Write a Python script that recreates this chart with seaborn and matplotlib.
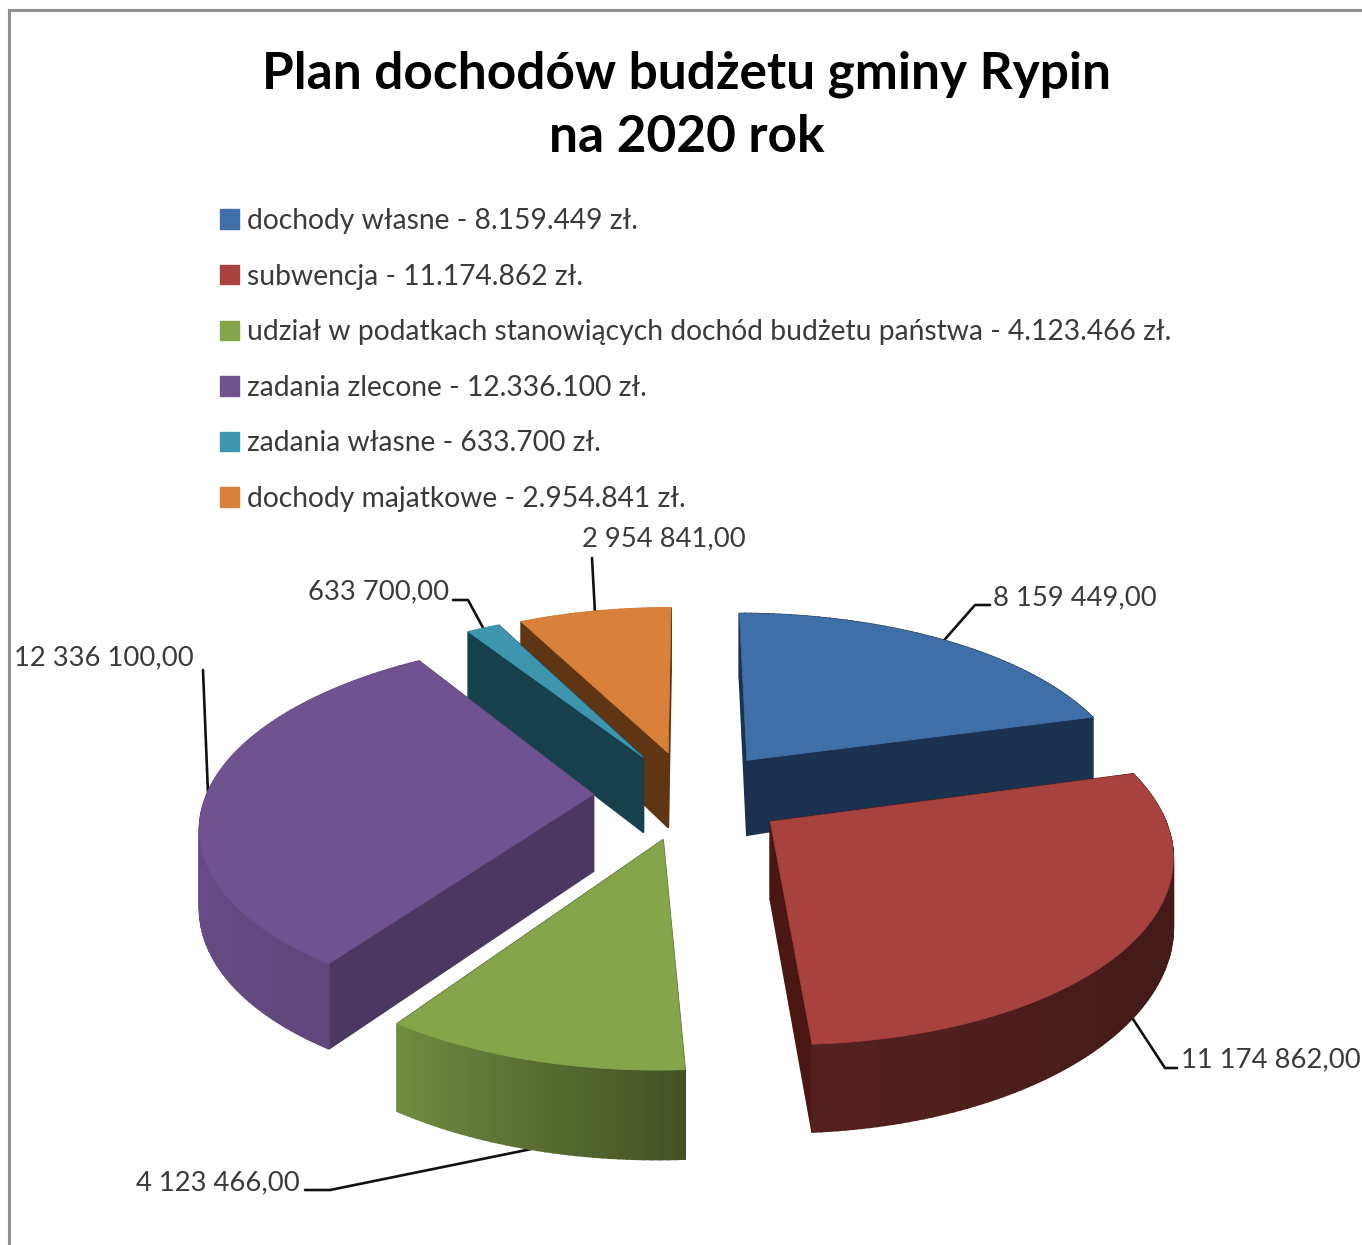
import numpy as np
import seaborn as sns
import matplotlib
matplotlib.use("Agg")
import matplotlib.pyplot as plt
from matplotlib.patches import Patch

title = "Plan dochodów budżetu gminy Rypin\nna 2020 rok"
names = ["dochody własne", "subwencja",
         "udział w podatkach stanowiących dochód budżetu państwa",
         "zadania zlecone", "zadania własne", "dochody majatkowe"]
values = [8159449, 11174862, 4123466, 12336100, 633700, 2954841]
top_colors = ["#3f6fa8", "#a8423f", "#86a44a", "#6f5391", "#3d96ae", "#d9813a"]
side_colors = ["#1b3150", "#4a1713", "#46592a", "#4b3862", "#17404d", "#603513"]

# where the labels sit and how the leader lines bend
label_pos = [(993, 598), (1181, 1060), (300, 1183), (194, 658), (449, 592), (664, 539)]
label_ha = ["left", "left", "right", "right", "right", "center"]
elbows = [[(975, 605), (990, 605)], [(1165, 1068), (1177, 1068)],
          [(330, 1190), (305, 1190)], [(203, 670)],
          [(468, 600), (453, 600)], [(592, 558)]]
use_bottom = [False, True, True, False, False, False]

# perspective of the pie
cx, cy = 690, 795
D0, f, g, explode = 6.49, 2510, 1164, 0.25
H0, H1, H2 = 77, 10, 8
# rim brightness against angle
shade_ang = [0, 90, 130, 177, 214, 270, 360]
shade_val = [0.45, 0.40, 0.41, 0.50, 0.85, 0.95, 0.95]

sns.set_theme(style="white")
plt.rcParams["font.family"] = ["Lato", "DejaVu Sans"]
palette = sns.color_palette(top_colors)


def project(x, d, z=0):
    depth = D0 - d
    drop = H0 + H1 * d - H2 * max(x, 0) ** 2
    return cx + f * x / depth, cy + g * d / depth + z * drop


def world(theta, r, ox, od):
    t = np.radians(theta)
    return ox + r * np.sin(t), od - r * np.cos(t)


fig = plt.figure(figsize=(13.62, 12.45), dpi=100)
ax = fig.add_axes([9 / 1362, 0, 1 - 9 / 1362, 1 - 10 / 1245])
ax.set_xlim(9, 1362)
ax.set_ylim(1245, 10)
ax.set_xticks([])
ax.set_yticks([])
sns.despine(ax=ax, top=False, right=True, bottom=True)
for s in ["left", "top"]:
    ax.spines[s].set_color("#8f8f8f")
    ax.spines[s].set_linewidth(2.2)

total = sum(values)
edges = np.cumsum([0] + values) / total * 360

slices = []
for i in range(len(values)):
    a0, a1 = edges[i], edges[i + 1]
    mid = (a0 + a1) / 2
    ox, od = world(mid, explode, 0, 0)
    slices.append((world(mid, 0.6, ox, od)[1], i, a0, a1, mid, ox, od))

for _, i, a0, a1, mid, ox, od in sorted(slices):
    arc = np.arange(a0, a1, 1.0).tolist() + [a1]
    wx, wd = zip(*[world(a, 1, ox, od) for a in arc])
    wx, wd = np.array(wx), np.array(wd)

    # vertical faces, far ones first
    faces = []
    for a in (a0, a1):
        ex, ed = world(a, 1, ox, od)
        faces.append(((ox + ex) / 2, (od + ed) / 2, [(ox, od), (ex, ed)], side_colors[i]))
    for j in range(len(arc) - 1):
        b = np.interp((arc[j] + arc[j + 1]) / 2, shade_ang, shade_val)
        col = tuple(c * b for c in palette[i])
        faces.append((wx[j], (wd[j] + wd[j + 1]) / 2, [(wx[j], wd[j]), (wx[j + 1], wd[j + 1])], col))
    for face in sorted(faces, key=lambda q: q[1]):
        (x0, d0), (x1, d1) = face[2]
        px = [project(x0, d0), project(x1, d1), project(x1, d1, 1), project(x0, d0, 1)]
        ax.fill(*zip(*px), color=face[3], lw=1.2, zorder=2)

    px = [project(ox, od)] + [project(a, b) for a, b in zip(wx, wd)]
    ax.fill(*zip(*px), color=palette[i], lw=0.5, zorder=2)

    # leader line and value
    ax_, ad_ = world(mid, 1, ox, od)
    start = project(ax_, ad_, 1 if use_bottom[i] else 0)
    pts = [start] + elbows[i]
    ax.plot(*zip(*pts), color="#111111", lw=1.9, zorder=1, solid_joinstyle="round")
    lab = f"{values[i]:,}".replace(",", " ") + ",00"
    ax.text(*label_pos[i], lab, fontsize=19.7, color="#3a3a3a", ha=label_ha[i], va="center")

ax.text(687, 106, title, fontsize=37, fontweight="bold", color="black",
        ha="center", va="center", linespacing=1.43)

handles = [Patch(facecolor=c, edgecolor=c) for c in palette]
labels = [f"{n} - {v:,} zł.".replace(",", ".") for n, v in zip(names, values)]
ax.legend(handles, labels, loc="upper left", bbox_to_anchor=(220, 208), bbox_transform=ax.transData,
          frameon=False, fontsize=20.3, labelcolor="#3a3a3a", handlelength=0.68, handleheight=0.68,
          handletextpad=0.27, labelspacing=1.05, borderpad=0, borderaxespad=0)

fig.savefig("out.png", dpi=100, facecolor="white")
